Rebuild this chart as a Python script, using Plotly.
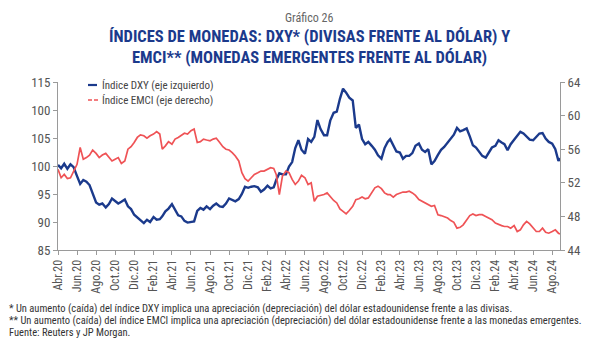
import plotly.graph_objects as go
import pandas as pd

# ---------------- data (3 readings per month: days 1, 11, 21; plus final 26-Aug-2024) ----------------
start_month = "2020-04"
end_month = "2024-08"
final_date = "2024-08-26"

dxy = [
    100.2, 99.6, 100.4,  99.5, 100.3, 99.8,  98.2, 96.8, 97.5,  97.2, 96.6, 95.2,
    93.5, 93.1, 93.3,  92.6, 93.2, 94.2,  93.8, 93.3, 93.6,  94.0, 92.8, 92.3,
    91.3, 90.8, 90.4,
    89.8, 90.4, 90.0,  90.9, 90.4, 90.5,  91.0, 91.9, 92.4,  93.2, 92.2, 91.2,
    91.0, 90.2, 89.9,  90.0, 90.1, 92.0,  92.5, 92.2, 92.8,  92.3, 92.9, 93.3,
    92.8, 92.7, 93.3,  94.2, 94.0, 93.7,  94.1, 95.0, 96.3,  96.1, 96.3, 96.4,
    96.2, 95.4, 95.8,  96.5, 96.0, 96.2,  97.5, 98.7, 98.5,  98.5, 99.9, 100.7,
    103.2, 104.6, 102.9,  102.2, 104.8, 104.3,  105.2, 108.2, 106.6,  105.5, 105.5, 108.1,
    109.5, 109.7, 112.0,  113.8, 113.1, 112.2,  111.7, 106.8, 107.4,  104.8, 103.9, 104.3,
    103.6, 102.9, 101.9,  101.3, 103.2, 104.3,  104.8, 103.8, 102.6,  102.4, 101.3, 101.8,
    101.8, 102.3, 103.6,  104.0, 102.9, 102.5,  103.0, 100.3, 100.9,  102.0, 102.9, 103.4,
    104.2, 104.9, 105.6,  106.8, 106.2, 106.4,  106.7, 105.3, 103.7,  103.3, 102.6, 101.8,
    101.5, 102.4, 103.3,  103.6, 104.6, 104.2,  103.9, 102.8, 103.9,  104.7, 105.4, 106.1,
    105.8, 105.3, 104.7,  104.6, 105.2, 105.8,  105.9, 104.9, 104.3,  104.0, 103.0, 100.9,
    101.4,
]

emci = [
    53.6, 52.6, 53.0,  52.5, 52.6, 53.4,  54.2, 56.2, 54.8,  55.0, 55.3, 55.9,
    55.5, 55.0, 55.3,  55.5, 55.0, 54.6,  54.8, 55.0, 54.3,  54.6, 56.0, 56.3,
    56.8, 57.4, 57.7,
    57.6, 57.3, 57.6,  57.8, 58.1, 57.8,  56.0, 56.4, 56.9,  56.6, 57.2, 57.4,
    57.6, 57.9, 57.8,  58.2, 58.4, 56.8,  56.9, 57.2, 57.1,  57.0, 57.2, 57.3,
    56.8, 56.3, 56.0,  55.9, 55.6, 55.2,  54.6, 53.2, 52.5,  52.2, 52.6, 53.0,
    53.2, 53.4, 53.4,  53.6, 53.8, 53.7,  53.0, 50.6, 52.8,  53.4, 53.2, 52.4,
    51.8, 52.2, 52.9,  52.6, 51.8, 52.0,  49.8, 50.4, 50.5,  50.6, 50.8, 50.3,
    49.9, 49.6, 48.9,  48.6, 48.3, 48.7,  49.2, 50.0, 50.1,  50.3, 50.1, 50.2,
    50.8, 51.4, 51.6,  51.3, 50.8, 50.6,  50.6, 50.3, 50.6,  50.8, 50.9, 50.9,
    51.0, 50.8, 50.5,  50.0, 49.8, 49.6,  49.5, 49.2, 49.3,  48.2, 48.1, 48.0,
    47.8, 47.5, 47.3,  46.6, 46.7, 47.0,  47.6, 48.1, 48.3,  48.1, 48.2, 48.2,
    48.0, 47.8, 47.6,  47.2, 47.0, 46.9,  46.8, 46.8, 46.6,  46.9, 46.2, 46.4,
    47.0, 47.4, 47.1,  46.6, 46.2, 46.2,  46.6, 46.1, 46.0,  46.2, 46.4, 46.0,
    45.9,
]

month_names = {2: "Feb", 4: "Abr", 6: "Jun", 8: "Ago", 10: "Oct", 12: "Dic"}
left_tickvals = [85, 90, 95, 100, 105, 110, 115]
left_ticktext = ["85", "90", "95", "100", "105", "100", "115"]
right_tickvals = [44, 48, 52, 56, 60, 64]

title_small = "Gráfico 26"
title_main = "ÍNDICES DE MONEDAS: DXY* (DIVISAS FRENTE AL DÓLAR) Y<br>EMCI** (MONEDAS EMERGENTES FRENTE AL DÓLAR)"
legend_names = ["Índice DXY (eje izquierdo)", "Índice EMCI (eje derecho)"]
notes = [
    "* Un aumento (caída) del índice DXY implica una apreciación (depreciación) del dólar estadounidense frente a las divisas.",
    "** Un aumento (caída) del índice EMCI implica una apreciación (depreciación) del dólar estadounidense frente a las monedas emergentes.",
    "Fuente: Reuters y JP Morgan.",
]

# ---------------- build dates ----------------
months = pd.period_range(start_month, end_month, freq="M")
dates = []
for m in months:
    for d in (1, 11, 21):
        dates.append(pd.Timestamp(year=m.year, month=m.month, day=d))
dates.append(pd.Timestamp(final_date))

tick_dates = [pd.Timestamp(year=m.year, month=m.month, day=1) for m in months if m.month % 2 == 0]
tick_text = [f"{month_names[t.month]}.{str(t.year)[2:]}" for t in tick_dates]

BLUE = "#1B3A8C"
RED = "#EF5356"
AX = "#9a9a9a"
TXT = "#555555"
FONT = "Liberation Sans Narrow, Roboto Condensed, Open Sans, sans-serif"

W, H = 600, 354
ML, MR, MT, MB = 58, 40, 82, 104
PW = W - ML - MR
PH = H - MT - MB


def px(xp):
    return (xp - ML) / PW


def py(yp):
    return 1 - (yp - MT) / PH


fig = go.Figure()
fig.add_trace(go.Scatter(x=dates, y=emci, yaxis="y2", mode="lines",
                         line=dict(color=RED, width=1.7), name=legend_names[1], showlegend=False))
fig.add_trace(go.Scatter(x=dates, y=dxy, mode="lines",
                         line=dict(color=BLUE, width=2.4), name=legend_names[0], showlegend=False))

fig.update_layout(
    width=W, height=H,
    margin=dict(l=ML, r=MR, t=MT, b=MB),
    paper_bgcolor="white", plot_bgcolor="white",
    font=dict(family=FONT, color=TXT, size=12),
    xaxis=dict(
        type="date", range=[dates[0], dates[-1]],
        tickvals=tick_dates, ticktext=tick_text, tickangle=-90,
        showgrid=False, showline=True, linecolor=AX, linewidth=1,
        ticks="outside", ticklen=4, tickcolor=AX,
        tickfont=dict(size=12, color=TXT), zeroline=False,
    ),
    yaxis=dict(
        range=[85, 115], tickvals=left_tickvals, ticktext=left_ticktext,
        showgrid=False, showline=True, linecolor=AX, linewidth=1,
        ticks="outside", ticklen=4, tickcolor=AX, zeroline=False,
        tickfont=dict(size=13, color=TXT),
    ),
    yaxis2=dict(
        range=[44, 64], tickvals=right_tickvals, overlaying="y", side="right",
        showgrid=False, showline=True, linecolor=AX, linewidth=1,
        ticks="outside", ticklen=4, tickcolor=AX, zeroline=False,
        tickfont=dict(size=13, color=TXT),
    ),
    showlegend=False,
)

annotations = [
    dict(text=title_small, x=0.5, xref="paper", y=py(18), yref="paper", xanchor="center", yanchor="middle",
         showarrow=False, font=dict(family=FONT, size=12, color="#666666")),
    dict(text="<b>" + title_main + "</b>", x=px(W / 2 + 9), xref="paper", y=py(47), yref="paper",
         xanchor="center", yanchor="middle", showarrow=False,
         font=dict(family=FONT, size=16.5, color=BLUE)),
    dict(text=legend_names[0], x=px(100), xref="paper", y=py(85), yref="paper", xanchor="left",
         yanchor="middle", showarrow=False, font=dict(family=FONT, size=11, color="#444444")),
    dict(text=legend_names[1], x=px(100), xref="paper", y=py(100), yref="paper", xanchor="left",
         yanchor="middle", showarrow=False, font=dict(family=FONT, size=11, color="#444444")),
]
for i, t in enumerate(notes):
    annotations.append(dict(text=t, x=px(7), xref="paper", y=py(308 + 12 * i), yref="paper",
                            xanchor="left", yanchor="middle", showarrow=False,
                            font=dict(family=FONT, size=10.5, color="#333333")))
fig.update_layout(annotations=annotations)

fig.update_layout(shapes=[
    dict(type="line", xref="paper", yref="paper", x0=px(88), x1=px(97), y0=py(85), y1=py(85),
         line=dict(color=BLUE, width=2.2)),
    dict(type="line", xref="paper", yref="paper", x0=px(88), x1=px(98), y0=py(100), y1=py(100),
         line=dict(color=RED, width=1.6, dash="4px,2px")),
])

fig.write_html("out.html")
